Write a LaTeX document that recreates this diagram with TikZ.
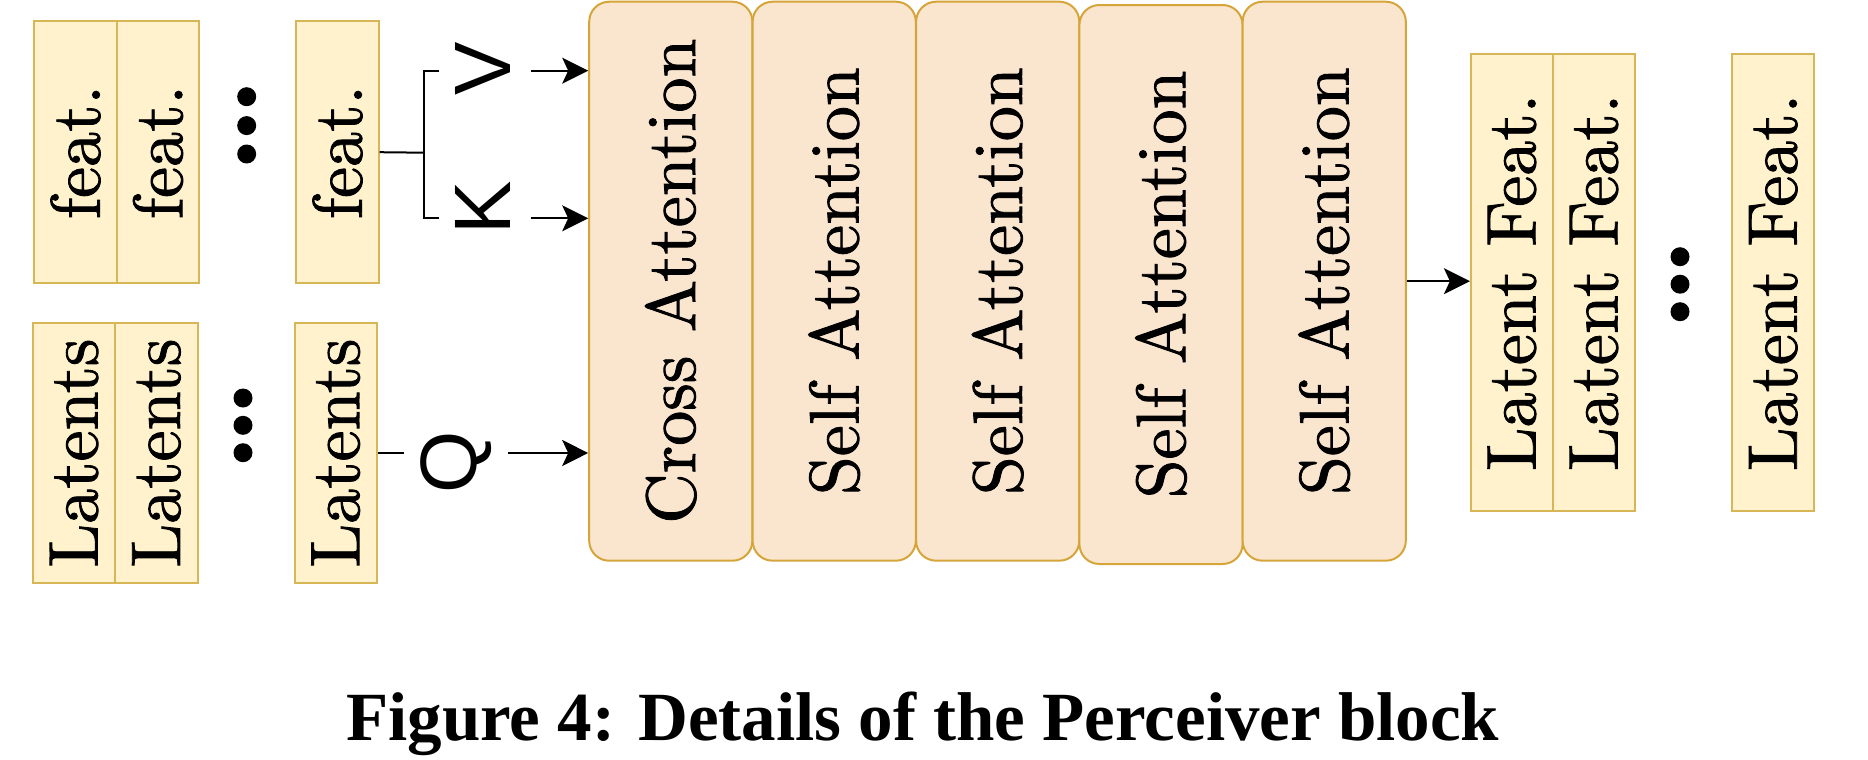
\documentclass[tikz,border=0pt]{standalone}
\usepackage{fontspec}
\newfontfamily\boxfont[Extension=.otf, FakeBold=1.2]{lmroman10-regular}
\newfontfamily\kqvfont{Liberation Sans}
\newfontfamily\capfont{Liberation Serif}
\usetikzlibrary{arrows.meta}
\definecolor{featfill}{HTML}{FFF2CC}
\definecolor{featline}{HTML}{D6B656}
\definecolor{attfill}{HTML}{FAE6CF}
\definecolor{attline}{HTML}{D6A53A}
\begin{document}
\begin{tikzpicture}[x=0.5pt,y=-0.5pt,
    featbox/.style={draw=featline, fill=featfill, line width=1pt, inner sep=0pt,
      minimum width=41.2pt, minimum height=131pt, font=\boxfont\fontsize{35}{42}\selectfont},
    latbox/.style={featbox, minimum height=129.7pt},
    outbox/.style={featbox, minimum width=41pt, minimum height=228.5pt},
    attbox/.style={draw=attline, fill=attfill, line width=1pt, rounded corners=10pt,
      inner sep=0pt, minimum width=81.6pt, minimum height=279.5pt,
      font=\boxfont\fontsize{35}{42}\selectfont},
    kqv/.style={inner sep=0pt, inner xsep=10pt, font=\kqvfont\fontsize{40}{48}\selectfont},
    arr/.style={-{Stealth[length=13pt, width=13pt, inset=3pt]}, line width=1pt},
    wire/.style={line width=1pt}]
  \useasboundingbox (0,0) rectangle (1868,760);
  \node[featbox] (f1) at (75.5,152.2) {\rotatebox{90}{feat.}};
  \node[featbox] (f2) at (158,152.2) {\rotatebox{90}{feat.}};
  \node[featbox] (f3) at (337.5,152.2) {\rotatebox{90}{feat.}};
  \node[latbox] (l1) at (74,453) {\rotatebox{90}{Latents}};
  \node[latbox] (l2) at (156.4,453) {\rotatebox{90}{Latents}};
  \node[latbox] (l3) at (335.7,453) {\rotatebox{90}{Latents}};
  \node[attbox] (cross) at (670.8,281.2) {\rotatebox{90}{Cross Attention}};
  \node[attbox] (self1) at (834.2,281.2) {\rotatebox{90}{Self Attention}};
  \node[attbox] (self2) at (997.7,281.2) {\rotatebox{90}{Self Attention}};
  \node[attbox] (self3) at (1161,284.5) {\rotatebox{90}{Self Attention}};
  \node[attbox] (self4) at (1324.2,281.2) {\rotatebox{90}{Self Attention}};
  \node[outbox] (o1) at (1511.9,282.5) {\rotatebox{90}{Latent Feat.}};
  \node[outbox] (o2) at (1593.9,282.5) {\rotatebox{90}{Latent Feat.}};
  \node[outbox] (o3) at (1773.2,282.5) {\rotatebox{90}{Latent Feat.}};
  \node[kqv] (v) at (483.4,69) {\rotatebox{90}{V}};
  \node[kqv] (k) at (483.4,207.5) {\rotatebox{90}{K}};
  \node[kqv, inner xsep=8pt] (q) at (456,462) {\rotatebox{90}{Q}};
  \coordinate (brk) at (424.3,152.7);
  \coordinate (brktop) at (439.3,70.7);
  \coordinate (brkbot) at (439.3,218.3);
  \foreach \y in {96.7,125.6,154} \fill (246.7,\y) circle[radius=4.75pt];
  \foreach \y in {398,425.3,452.7} \fill (243,\y) circle[radius=4.75pt];
  \foreach \y in {256.7,284.2,311.7} \fill (1680,\y) circle[radius=4.75pt];
  \draw[wire] (f3.east) -- (brk);
  \draw[wire] (brktop) -- (brk |- brktop) -- (brk |- brkbot) -- (brkbot);
  \draw[arr] (v.east |- brktop) -- (cross.west |- brktop);
  \draw[arr] (k.east |- brkbot) -- (cross.west |- brkbot);
  \draw[wire] (l3.east) -- (q.west |- l3.east);
  \draw[arr] (q.east |- l3.east) -- (cross.west |- l3.east);
  \draw[arr] (self4.east) -- (self4.east -| o1.west);
  \node[font=\capfont\bfseries\fontsize{34.5}{40}\selectfont, anchor=base] (caption)
    at (922.7,740.7) {Figure 4: Details of the Perceiver block};
\end{tikzpicture}
\end{document}
